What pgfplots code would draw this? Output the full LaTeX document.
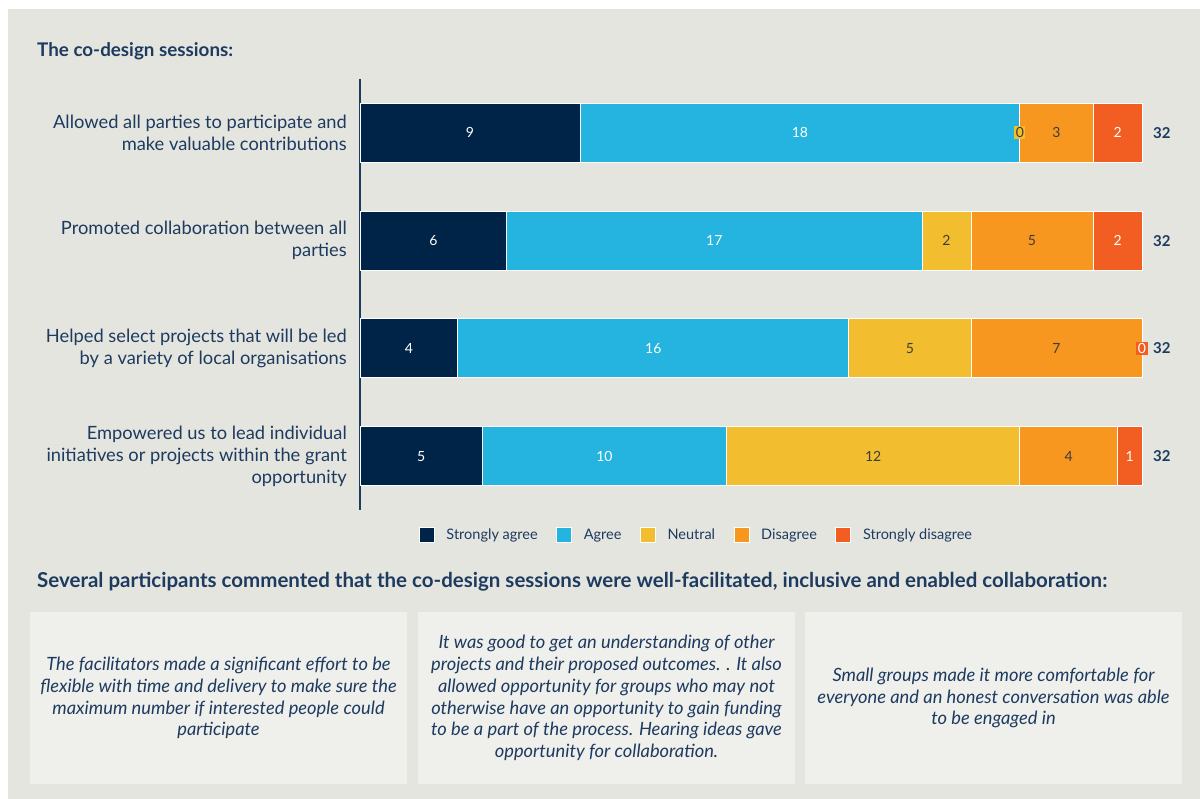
\documentclass[border=0pt]{standalone}
\usepackage{fontspec}
\setmainfont{Lato}
\usepackage{pgfplots}
\pgfplotsset{compat=1.18}
\usepackage{pgfplotstable}

\definecolor{bgc}{HTML}{E5E5E0}
\definecolor{boxc}{HTML}{EFEFEC}
\definecolor{navy}{HTML}{1D3A5F}
\definecolor{cSA}{HTML}{002448}
\definecolor{cA}{HTML}{25B4E0}
\definecolor{cN}{HTML}{F2BD2E}
\definecolor{cD}{HTML}{F8971F}
\definecolor{cSD}{HTML}{F25E22}
\definecolor{dtext}{HTML}{3C3C3C}

\pgfplotstableread{
y v
0 9
1 6
2 4
3 5
}\tSA
\pgfplotstableread{
y v
0 18
1 17
2 16
3 10
}\tA
\pgfplotstableread{
y v
0 0
1 2
2 5
3 12
}\tN
\pgfplotstableread{
y v
0 3
1 5
2 7
3 4
}\tD
\pgfplotstableread{
y v
0 2
1 2
2 0
3 1
}\tSD
\pgfplotstableread{
y t
0 32
1 32
2 32
3 32
}\tTot

\pgfplotsset{
  seg/.style 2 args={
    fill=#1, draw=white, line width=0.8pt,
    point meta=explicit,
    nodes near coords={\pgfmathprintnumber[assume math mode=true]{\pgfplotspointmeta}},
    nodes near coords align=center,
    every node near coord/.append style={anchor=center,
      text=#2, fill=#1, inner sep=1.5pt,
      font=\fontsize{14}{16}\selectfont}
  },
  zerolab/.style n args={3}{forget plot, stack plots=false, draw=none, fill=none,
    point meta=explicit,
    nodes near coords={\pgfmathprintnumber[assume math mode=true]{\pgfplotspointmeta}},
    every node near coord/.append style={anchor=center, xshift=#3,
      text=#2, fill=#1, inner sep=1.5pt, font=\fontsize{14}{16}\selectfont}
  }
}

\begin{document}
\begin{tikzpicture}[x=1pt,y=1pt]
\useasboundingbox (0,0) rectangle (1200,799);
\fill[white] (0,0) rectangle (1200,799);
\fill[bgc] (8,0) rectangle (1200,790);
\node[anchor=base west, inner sep=0pt, text=navy, font=\fontsize{18.8}{22}\selectfont\bfseries] at (37,742) {The co-design sessions:};

\begin{axis}[
  at={(360pt,289pt)}, anchor=south west,
  scale only axis, width=782pt, height=431pt,
  xmin=0, xmax=32, ymin=-0.5, ymax=3.5,
  y dir=reverse,
  xbar stacked, bar width=59pt,
  axis x line=none, axis y line*=left,
  y axis line style={draw=navy, line width=1.6pt},
  major tick length=0pt,
  ytick={0,1,2,3},
  yticklabels={{Allowed all parties to participate and\\make valuable contributions},
               {Promoted collaboration between all\\parties},
               {Helped select projects that will be led\\by a variety of local organisations},
               {Empowered us to lead individual\\initiatives or projects within the grant\\opportunity}},
  yticklabel style={align=right, inner sep=0pt, xshift=-13pt, text=navy,
     font=\fontsize{18.3}{22}\selectfont},
  clip=false,
  legend columns=5,
  legend style={at={(0.4303,-0.058)}, anchor=center, draw=none, fill=none,
     text=navy, font=\fontsize{14.5}{18}\selectfont,
     /tikz/every even column/.append style={column sep=16.5pt},
     /tikz/every odd column/.append style={column sep=10pt}},
  legend image code/.code={\draw[#1, draw=white, line width=0.6pt] (0pt,-7.5pt) rectangle (15pt,7.5pt);},
]
\addplot[seg={cSA}{white}] table[x=v, y=y, meta=v] {\tSA};
\addlegendentry{Strongly agree}
\addplot[seg={cA}{white}] table[x=v, y=y, meta=v] {\tA};
\addlegendentry{Agree}
\addplot[seg={cN}{dtext}] table[x=v, y=y, meta=v] {\tN};
\addlegendentry{Neutral}
\addplot[seg={cD}{dtext}] table[x=v, y=y, meta=v] {\tD};
\addlegendentry{Disagree}
\addplot[seg={cSD}{white}] table[x=v, y=y, meta=v] {\tSD};
\addlegendentry{Strongly disagree}
% zero-valued segments: labels at their (cumulative) position
\addplot[zerolab={cN}{dtext}{329.9pt}] coordinates {(27,0) [0]};
\addplot[zerolab={cSD}{white}{391pt}] coordinates {(32,2) [0]};
\addplot[forget plot, stack plots=false, draw=none, fill=none,
   point meta=explicit,
   nodes near coords={\pgfmathprintnumber[assume math mode=true]{\pgfplotspointmeta}},
   every node near coord/.append style={anchor=west, inner sep=0pt, xshift=402pt,
     text=navy, font=\fontsize{15}{18}\selectfont\bfseries}]
   table[x=t, y=y, meta=t] {\tTot};
\end{axis}

\node[anchor=base west, inner sep=0pt, text=navy, font=\fontsize{20.5}{24}\selectfont\bfseries] at (37,211)
  {Several participants commented that the co-design sessions were well-facilitated, inclusive and enabled collaboration:};

\fill[boxc] (30,15) rectangle (407,187);
\fill[boxc] (418,15) rectangle (795,187);
\fill[boxc] (805,15) rectangle (1182,187);
\begin{scope}[every node/.style={align=center, text=navy, inner sep=0pt,
   font=\fontsize{18.3}{21.7}\selectfont\itshape}]
\node at (218.5,101) {The facilitators made a significant effort to be\\flexible with time and delivery to make sure the\\maximum number if interested people could\\participate};
\node at (606.5,101) {It was good to get an understanding of other\\projects and their proposed outcomes. . It also\\allowed opportunity for groups who may not\\otherwise have an opportunity to gain funding\\to be a part of the process. Hearing ideas gave\\opportunity for collaboration.};
\node at (993.5,101) {Small groups made it more comfortable for\\everyone and an honest conversation was able\\to be engaged in};
\end{scope}
\end{tikzpicture}
\end{document}
